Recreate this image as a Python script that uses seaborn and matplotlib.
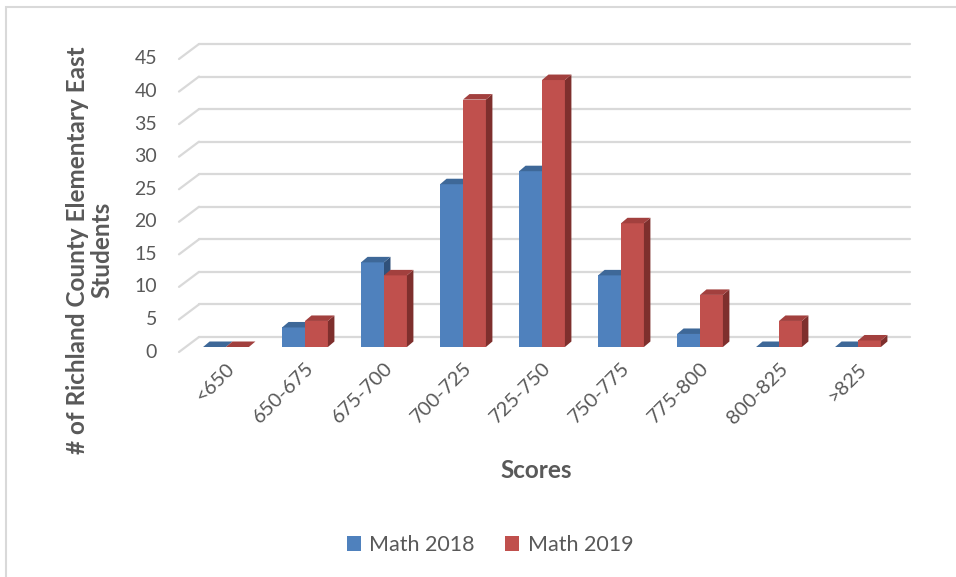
import matplotlib
matplotlib.use("Agg")
import matplotlib.pyplot as plt
import matplotlib.transforms as mtransforms
from matplotlib.patches import Polygon, Patch, Rectangle
from matplotlib.lines import Line2D
import pandas as pd
import seaborn as sns

# data
score_ranges = ["<650", "650-675", "675-700", "700-725", "725-750",
                "750-775", "775-800", "800-825", ">825"]
math_2018 = [0, 3, 13, 25, 27, 11, 2, 0, 0]
math_2019 = [0, 4, 11, 38, 41, 19, 8, 4, 1]
series_names = ["Math 2018", "Math 2019"]
y_ticks = list(range(0, 50, 5))

df = pd.DataFrame({
    "range": score_ranges * 2,
    "count": math_2018 + math_2019,
    "year": [series_names[0]] * len(score_ranges) + [series_names[1]] * len(score_ranges),
})

sns.set_theme(style="white")
plt.rcParams["font.family"] = ["Lato", "DejaVu Sans"]

TEXT = "#595959"
GRID = "#D9D9D9"
front_cols = ["#4F81BD", "#C0504D"]
top_cols = ["#3E6898", "#A2403E"]
side_cols = ["#30517A", "#7E2F2D"]

DPI = 100
fig = plt.figure(figsize=(9.56, 5.77), dpi=DPI)
W, H = 956, 577
# axes = front plane of the bars
ax = fig.add_axes([186.5 / W, 230 / H, 711 / W, 293 / H])

sns.barplot(data=df, x="range", y="count", hue="year", palette=front_cols,
            width=0.58, saturation=1, ax=ax, legend=False, linewidth=0,
            order=score_ranges, hue_order=series_names)
ax.set_xlim(-0.5, len(score_ranges) - 0.5)
ax.set_ylim(0, 45)
for s in ax.spines.values():
    s.set_visible(False)
ax.set_xlabel("")
ax.set_ylabel("")
ax.set_yticks([])
ax.tick_params(axis="x", length=0, pad=9, labelsize=14.5, labelcolor=TEXT)
ax.set_xticks(range(len(score_ranges)))
ax.set_xticklabels(score_ranges, rotation=45, ha="right", rotation_mode="anchor")

# 3D offsets in pixels (display coords, y up)
back_dx, back_dy = 12.5, 10
wall_dx, wall_dy = -7.5, -5
bar_dx, bar_dy = 6.5, 5.5

ident = mtransforms.IdentityTransform()
to_disp = ax.transData.transform

# back wall gridlines + left wall diagonals + tick labels
x_lo, x_hi = ax.get_xlim()
for yv in y_ticks:
    (xa, ya), (xb, yb) = to_disp([(x_lo, yv), (x_hi, yv)])
    ax.add_line(Line2D([xa + back_dx, xb + back_dx], [ya + back_dy, yb + back_dy],
                       transform=ident, color=GRID, lw=1.6, zorder=0.5, clip_on=False))
    ax.add_line(Line2D([xa + wall_dx, xa + back_dx], [ya + wall_dy, ya + back_dy],
                       transform=ident, color=GRID, lw=1.6, zorder=0.5, clip_on=False))
    fig.text((xa + wall_dx - 22) / W, (ya + wall_dy) / H, str(yv), ha="right",
             va="center", fontsize=14, color=TEXT)

# top and side faces built from seaborn's bars
n = len(score_ranges)
for i, p in enumerate(ax.patches):
    k = i // n
    p.set_zorder(2 + k)
    x0, x1, h = p.get_x(), p.get_x() + p.get_width(), p.get_height()
    (ax0, ah), (ax1, _), (_, a0) = to_disp([(x0, h), (x1, h), (x1, 0)])
    top = [(ax0, ah), (ax1, ah), (ax1 + bar_dx, ah + bar_dy), (ax0 + bar_dx, ah + bar_dy)]
    side = [(ax1, a0), (ax1, ah), (ax1 + bar_dx, ah + bar_dy), (ax1 + bar_dx, a0 + bar_dy)]
    ax.add_patch(Polygon(side, closed=True, transform=ident, facecolor=side_cols[k],
                         edgecolor="none", zorder=2.5 + k, clip_on=False))
    ax.add_patch(Polygon(top, closed=True, transform=ident, facecolor=top_cols[k],
                         edgecolor="none", zorder=2.5 + k, clip_on=False))

# axis titles
fig.text(90 / W, 1 - 250 / H, "# of Richland County Elementary East\nStudents",
         rotation=90, ha="center", va="center", multialignment="center",
         fontsize=17.5, fontweight="bold", color=TEXT, linespacing=1.1)
fig.text(536 / W, 1 - 470 / H, "Scores", ha="center", va="center",
         fontsize=17.5, fontweight="bold", color=TEXT)

handles = [Patch(facecolor=c, edgecolor="none", label=lab) for c, lab in zip(front_cols, series_names)]
fig.legend(handles=handles, loc="center", bbox_to_anchor=(490 / W, 1 - 545 / H), ncol=2,
           frameon=False, fontsize=15.5, labelcolor=TEXT, handlelength=0.65, handleheight=0.65,
           handletextpad=0.4, columnspacing=1.4)

# chart border (left and top edges visible in the reference)
fig.add_artist(Rectangle((6 / W, -0.1), 1.2, 1.1 - 7 / H, transform=fig.transFigure,
                         facecolor="none", edgecolor=GRID, lw=1.5, zorder=0))

fig.savefig("out.png", dpi=DPI)
